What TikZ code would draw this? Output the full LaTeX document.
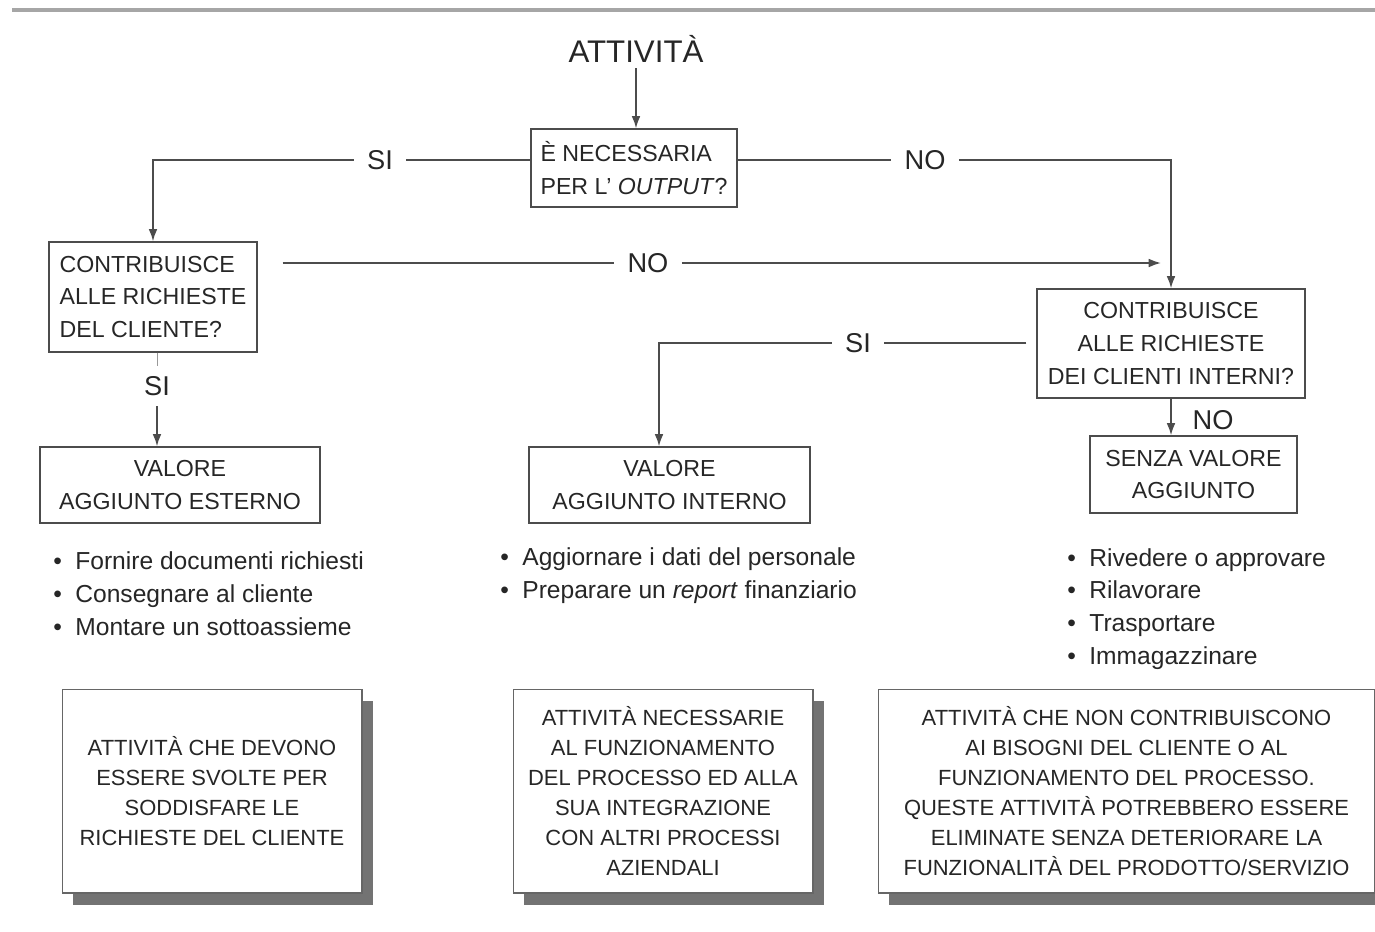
\documentclass[tikz,border=0pt]{standalone}
\usepackage{fontspec}
\setmainfont{Liberation Sans}
\usetikzlibrary{arrows.meta, positioning, shadows}

\tikzset{
    box/.style={draw=black!70, line width=0.7pt, inner sep=0pt, text=black!85,
        font=\fontsize{13.2}{18.7}\selectfont},
    lab/.style={text=black!85, inner xsep=0.26cm, inner ysep=0.2cm,
        font=\fontsize{15.5}{18}\selectfont},
    link/.style={draw=black!70, line width=1pt},
    bullets/.style={align=left, anchor=west, inner sep=0pt, text=black!85,
        font=\fontsize{14}{18.7}\selectfont},
    note/.style={draw=black!60, line width=0.6pt, fill=white, align=center, inner sep=0pt,
        minimum width=6cm, minimum height=4.08cm, text=black!85,
        font=\fontsize{12.5}{17}\selectfont,
        drop shadow={shadow xshift=0.22cm, shadow yshift=-0.24cm, fill=black!55, opacity=1}},
    >={Latex[length=7pt,width=5pt]}
}
\newcommand{\itm}[1]{\makebox[0.44cm][l]{\textbullet}#1}

\begin{document}
\begin{tikzpicture}[x=0.02cm, y=-0.02cm]
    \useasboundingbox (0,0) rectangle (1375,931);
    \draw[black!35, line width=2.5pt] (12,10) -- (1375,10);

    % questions
    \node[anchor=base, text=black!85, font=\fontsize{17.8}{20}\selectfont] (att) at (636,62) {ATTIVITÀ};
    \node[box, align=left, minimum width=4.12cm, minimum height=1.56cm] (q1) at (634,168)
        {È NECESSARIA\\PER L’ \textit{OUTPUT}?};
    \node[box, align=left, minimum width=4.16cm, minimum height=2.2cm] (q2) at (153,297)
        {CONTRIBUISCE\\ALLE RICHIESTE\\DEL CLIENTE?};
    \node[box, align=center, minimum width=5.36cm, minimum height=2.18cm] (q3) at (1171,343.5)
        {CONTRIBUISCE\\ALLE RICHIESTE\\DEI CLIENTI INTERNI?};

    % outcomes
    \node[box, align=center, minimum width=5.6cm, minimum height=1.52cm] (ve) at (180,485)
        {VALORE\\AGGIUNTO ESTERNO};
    \node[box, align=center, minimum width=5.62cm, minimum height=1.52cm] (vi) at (669.5,485)
        {VALORE\\AGGIUNTO INTERNO};
    \node[box, align=center, minimum width=4.14cm, minimum height=1.54cm] (sv) at (1193.5,474.5)
        {SENZA VALORE\\AGGIUNTO};

    % labels
    \node[lab] (si1) at (380,160) {SI};
    \node[lab] (no1) at (925,160) {NO};
    \node[lab] (no2) at (648,263) {NO};
    \node[lab] (si2) at (157,386) {SI};
    \node[lab] (si3) at (858,343) {SI};
    \node[lab] (no3) at (1213,420) {NO};

    % connectors
    \draw[link, ->] (att) -- (att |- q1.north);
    \draw[link] (q1.west |- si1) -- (si1);
    \draw[link, ->] (si1) -| (q2.north);
    \draw[link] (q1.east |- no1) -- (no1);
    \draw[link, ->] (no1) -| (q3.north);
    \draw[link, shorten <=0.5cm] (q2.east |- no2) -- (no2);
    \draw[link, ->, shorten >=0.2cm] (no2) -- (no2 -| q3.north);
    \draw[link, line width=0.5pt, black!40] (q2.south -| si2) -- (si2);
    \draw[link, ->] (si2) -- (si2 |- ve.north);
    \draw[link, shorten <=0.2cm] (q3.west |- si3) -- (si3);
    \draw[link, ->] (si3) -| ([xshift=-0.21cm]vi.north);
    \draw[link, ->] (q3.south) -- (q3.south |- sv.north);

    % examples
    \node[bullets] (l1) at (53,594)
        {\itm{Fornire documenti richiesti}\\\itm{Consegnare al cliente}\\\itm{Montare un sottoassieme}};
    \node[bullets] (l2) at (500,575.5)
        {\itm{Aggiornare i dati del personale}\\\itm{Preparare un \textit{report} finanziario}};
    \node[bullets] (l3) at (1067,609)
        {\itm{Rivedere o approvare}\\\itm{Rilavorare}\\\itm{Trasportare}\\\itm{Immagazzinare}};

    % descriptions
    \node[note] (d1) at (212,791)
        {ATTIVITÀ CHE DEVONO\\ESSERE SVOLTE PER\\SODDISFARE LE\\RICHIESTE DEL CLIENTE};
    \node[note] (d2) at (663,791)
        {ATTIVITÀ NECESSARIE\\AL FUNZIONAMENTO\\DEL PROCESSO ED ALLA\\SUA INTEGRAZIONE\\CON ALTRI PROCESSI\\AZIENDALI};
    \node[note, minimum width=9.94cm] (d3) at (1126.5,791)
        {ATTIVITÀ CHE NON CONTRIBUISCONO\\AI BISOGNI DEL CLIENTE O AL\\FUNZIONAMENTO DEL PROCESSO.\\QUESTE ATTIVITÀ POTREBBERO ESSERE\\ELIMINATE SENZA DETERIORARE LA\\FUNZIONALITÀ DEL PRODOTTO/SERVIZIO};
\end{tikzpicture}
\end{document}
